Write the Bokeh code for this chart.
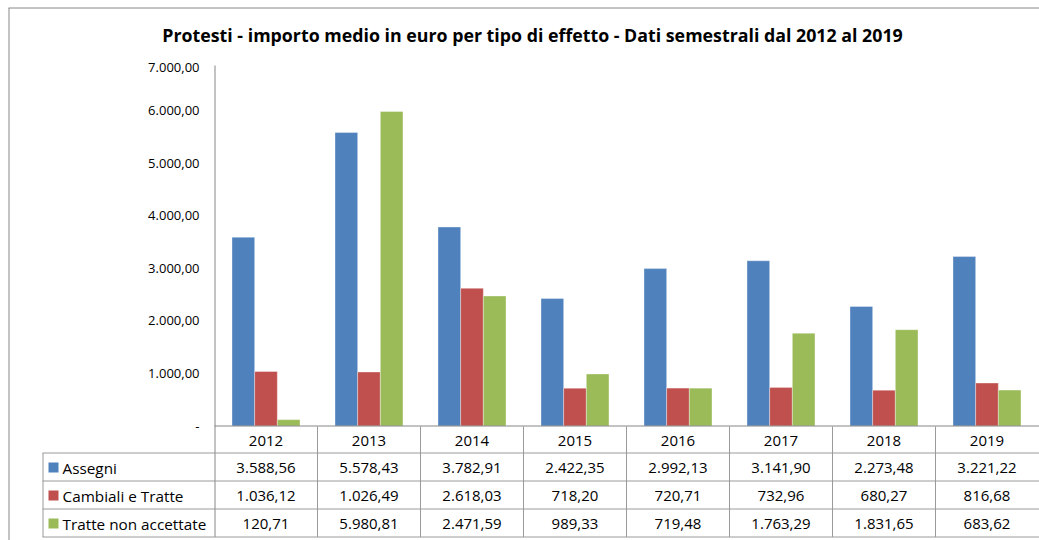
from bokeh.plotting import figure
from bokeh.models import Range1d, ColumnDataSource
from bokeh.core.properties import value
from bokeh.embed import file_html
from bokeh.resources import INLINE

# ---------------- data ----------------
years = ["2012", "2013", "2014", "2015", "2016", "2017", "2018", "2019"]
series_names = ["Assegni", "Cambiali e Tratte", "Tratte non accettate"]
assegni = [3588.56, 5578.43, 3782.91, 2422.35, 2992.13, 3141.90, 2273.48, 3221.22]
cambiali = [1036.12, 1026.49, 2618.03, 718.20, 720.71, 732.96, 680.27, 816.68]
tratte = [120.71, 5980.81, 2471.59, 989.33, 719.48, 1763.29, 1831.65, 683.62]
y_ticks = [0, 1000, 2000, 3000, 4000, 5000, 6000, 7000]
title_text = "Protesti - importo medio in euro per tipo di effetto - Dati semestrali dal 2012 al 2019"

colors = ["#4F81BD", "#C0504D", "#9BBB59"]
series = [assegni, cambiali, tratte]

# ---------------- layout helpers (page pixels -> data) ----------------
COL0, COLW = 214.0, 103.0          # left edge of first year column, column width
ZERO_PY, PX_PER_UNIT = 425.5, 0.0526
ORIGIN = 0.0                       # page position of the canvas origin


def px2x(px):
    return (px - COL0) / COLW


def py2y(py):
    return (ZERO_PY - py) / PX_PER_UNIT


def it_fmt(v):
    if v == 0:
        return "-"
    s = f"{v:,.2f}"
    return s.replace(",", "X").replace(".", ",").replace("X", ".")


W, H = 1039, 540
p = figure(width=W, height=H, output_backend="svg", toolbar_location=None,
           x_range=Range1d(px2x(ORIGIN), px2x(ORIGIN + W)),
           y_range=Range1d(py2y(ORIGIN + H), py2y(ORIGIN)),
           x_axis_location=None, y_axis_location=None,
           min_border=0, min_border_left=0, min_border_right=0,
           min_border_top=0, min_border_bottom=0)
p.grid.visible = False
p.outline_line_color = None
p.background_fill_color = "white"
p.border_fill_color = "white"

# ---------------- bars ----------------
bw = 0.22
offsets = [-bw, 0.0, bw]
for vals, col, off in zip(series, colors, offsets):
    src = ColumnDataSource(dict(x=[i + 0.5 + off for i in range(len(years))], top=vals))
    p.vbar(x="x", top="top", bottom=0, width=bw, source=src,
           fill_color=col, line_color="white", line_alpha=0.35, line_width=1)

# ---------------- lines (frame, axes, table grid) ----------------
TOP_AX = 65.0
ROWS = [426.0, 452.5, 480.5, 508.5, 536.5]
# outer border top / left
p.segment(x0=[px2x(8), px2x(8.5)], y0=[py2y(7.5), py2y(7.5)],
          x1=[px2x(1039), px2x(8.5)], y1=[py2y(7.5), py2y(540)],
          line_color="#888888", line_width=1)

# axes
p.segment(x0=[px2x(214.5), px2x(214)], y0=[py2y(TOP_AX), 0],
          x1=[px2x(214.5), px2x(1039)], y1=[py2y(ROWS[-1]), 0],
          line_color="#868686", line_width=1)

# table horizontals
hx0 = [px2x(42) for _ in ROWS[1:]]
hx1 = [px2x(1039) for _ in ROWS[1:]]
hy = [py2y(r) for r in ROWS[1:]]
p.segment(x0=hx0, y0=hy, x1=hx1, y1=hy, line_color="#9a9a9a", line_width=1)
# table verticals
vx = [px2x(42.5)] + [float(i) for i in range(1, len(years))]
vy0 = [py2y(ROWS[1])] + [py2y(ROWS[0]) for _ in range(1, len(years))]
vy1 = [py2y(ROWS[-1]) for _ in vx]
p.segment(x0=vx, y0=vy0, x1=vx, y1=vy1, line_color="#9a9a9a", line_width=1)

# ---------------- texts ----------------
FONT = value("Open Sans")

# title
p.text(x=[px2x(532)], y=[py2y(34)], text=[title_text],
       text_font=value("Open Sans"), text_font_style="bold", text_font_size="17.8px",
       text_align="center", text_baseline="middle", text_color="#000000")

# y tick labels
top_label = py2y(67)
tick_y = [min(t, top_label) for t in y_ticks]
tick_txt = [it_fmt(t) for t in y_ticks]
p.text(x=[px2x(199)] * len(y_ticks), y=tick_y, text=tick_txt,
       text_font=FONT, text_font_size="13px", text_align="right",
       text_baseline="middle", text_color="#000000")

# table header (years)
hdr_y = py2y((ROWS[0] + ROWS[1]) / 2 + 1)
p.text(x=[i + 0.5 for i in range(len(years))], y=[hdr_y] * len(years), text=years,
       text_font=FONT, text_font_size="15px", text_align="center",
       text_baseline="middle", text_color="#000000")

# table rows
for r, (name, vals, col) in enumerate(zip(series_names, series, colors)):
    cy = (ROWS[r + 1] + ROWS[r + 2]) / 2 + 1
    p.text(x=[i + 0.5 for i in range(len(years))], y=[py2y(cy)] * len(years),
           text=[it_fmt(v) for v in vals],
           text_font=FONT, text_font_size="15px", text_align="center",
           text_baseline="middle", text_color="#000000")
    p.scatter(x=[px2x(53)], y=[py2y(cy - 0.5)], marker="square", size=10,
              fill_color=col, line_color=None)
    p.text(x=[px2x(62)], y=[py2y(cy)], text=[name],
           text_font=FONT, text_font_size="15.3px", text_align="left",
           text_baseline="middle", text_color="#000000")

open("out.html", "w").write(file_html(p, INLINE))
